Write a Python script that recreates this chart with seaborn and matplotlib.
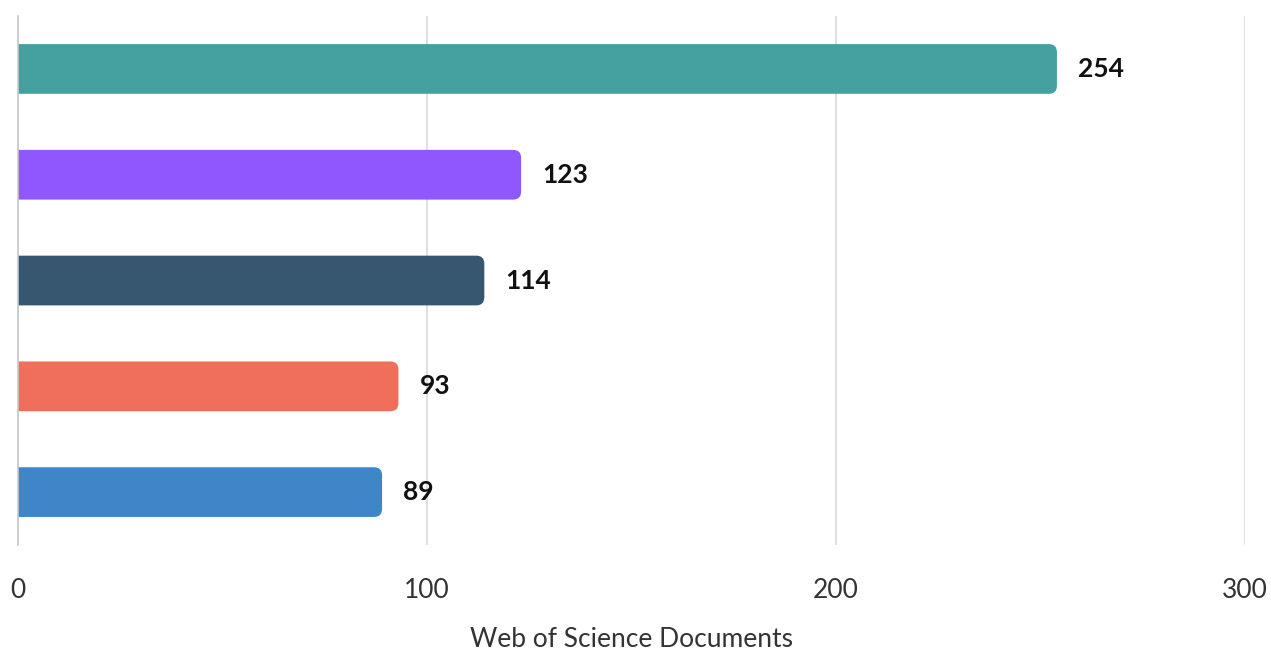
import pandas as pd
import seaborn as sns
import matplotlib.pyplot as plt
from matplotlib.patches import FancyBboxPatch

# data (categories have no visible labels)
categories = ["Cat 1", "Cat 2", "Cat 3", "Cat 4", "Cat 5"]
documents = [254, 123, 114, 93, 89]
colors = ["#45A19F", "#9157FF", "#37566F", "#EF6F5A", "#3F86C8"]
ticks = [0, 100, 200, 300]

df = pd.DataFrame({"category": categories, "documents": documents})

sns.set_theme(style="white")
plt.rcParams["font.family"] = ["Lato", "DejaVu Sans"]

fig = plt.figure(figsize=(12.71, 6.53), dpi=100)
ax = fig.add_axes([0.0142, 0.1654, 0.9654, 0.8100])

sns.barplot(data=df, x="documents", y="category", hue="category",
            palette=colors, saturation=1, width=0.47, legend=False,
            ax=ax, zorder=2)

ax.set_xlim(0, 300)
ax.set_ylim(4.5, -0.5)

# px per data unit, used to make round corners look circular
px_x = ax.bbox.width / 300
px_y = ax.bbox.height / 5
r_px = 8
rx = r_px / px_x
ry = r_px / px_y

for p in list(ax.patches):
    x, y, w, h = p.get_x(), p.get_y(), p.get_width(), p.get_height()
    fc = p.get_facecolor()
    p.remove()
    # start left of zero so only the right end shows rounding
    box = FancyBboxPatch((x - 3 * rx, y), w + 3 * rx, h,
                         boxstyle=f"round,pad=0,rounding_size={rx}",
                         mutation_aspect=ry / rx,
                         facecolor=fc, edgecolor="none", zorder=2,
                         clip_on=True)
    ax.add_patch(box)
    ax.text(x + w + 21 / px_x, y + h / 2, str(int(round(w))),
            va="center", ha="left", fontsize=19, fontweight="bold",
            color="#111111", zorder=3)

ax.set_xticks(ticks)
ax.set_xticklabels([str(t) for t in ticks], fontsize=19, color="#333333")
ax.tick_params(axis="x", length=0, pad=24)
ax.set_yticks([])
ax.set_ylabel("")
ax.set_xlabel("Web of Science Documents", fontsize=19, color="#333333",
              labelpad=17)
ax.grid(axis="x", color="#D9D9D9", linewidth=1.2, zorder=0)
ax.set_axisbelow(True)
for s in ["top", "right", "bottom"]:
    ax.spines[s].set_visible(False)
ax.spines["left"].set_color("#C8C8C8")
ax.spines["left"].set_linewidth(1.2)

fig.savefig("out.png", dpi=100)
